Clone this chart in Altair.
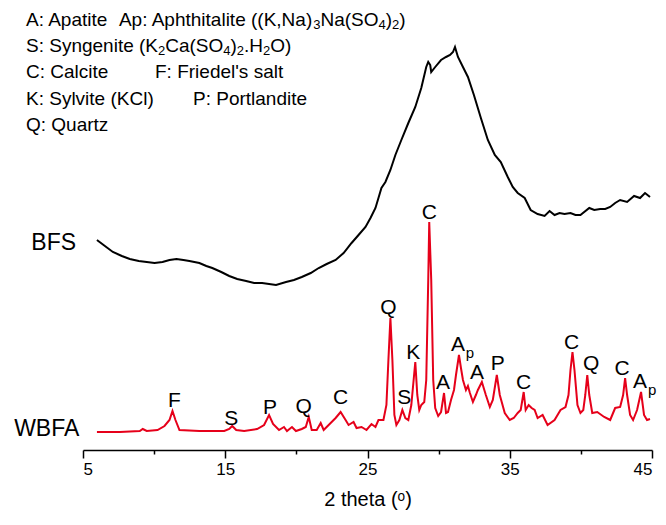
import altair as alt
import pandas as pd

# ---- BFS (black) pattern: 2theta (deg), intensity (a.u.) ----
bfs_2theta = [5.98, 6.54, 7.10, 7.73, 8.29, 8.92, 9.48, 10.03, 10.59, 11.08, 11.57, 12.06, 12.48,
              13.18, 13.67, 14.09, 14.72, 15.28, 15.84, 16.47, 17.03, 17.59, 18.08, 18.57, 19.27,
              19.83, 20.38, 21.01, 21.57, 22.13, 22.76, 23.32, 23.88, 24.37, 24.86, 25.21, 25.56,
              25.77, 25.98, 26.26, 26.61, 26.96, 27.38, 27.87, 28.36, 28.78, 29.13, 29.27, 29.41,
              29.48, 29.76, 30.17, 30.52, 30.80, 31.01, 31.15, 31.36, 31.71, 32.06, 32.48, 32.97,
              33.46, 33.95, 34.37, 34.86, 35.21, 35.56, 36.05, 36.47, 36.96, 37.45, 37.80, 38.15,
              38.50, 38.85, 39.27, 39.62, 39.97, 40.59, 40.94, 41.36, 41.71, 42.06, 42.41, 42.76,
              43.25, 43.74, 44.16, 44.51, 44.86]
bfs_int = [210, 204, 198, 194, 191, 189, 188, 187, 188, 190, 191, 190, 189,
           187, 184, 182, 178, 174, 171, 169, 167, 167, 166, 165, 168,
           170, 173, 177, 182, 186, 190, 197, 207, 215, 223, 232, 242,
           252, 262, 268, 280, 295, 310, 327, 343, 362, 383, 388, 385,
           378, 383, 390, 393, 395, 398, 403, 393, 383, 373, 355, 332,
           310, 295, 288, 273, 263, 257, 252, 240, 236, 234, 239, 235,
           237, 236, 237, 235, 235, 242, 240, 241, 241, 243, 247, 250,
           248, 254, 252, 257, 253]

# ---- WBFA (red) pattern ----
wbfa_2theta = [5.98, 7.59, 8.99, 9.20, 9.48, 10.24, 10.73, 11.08, 11.29, 11.50, 11.78, 13.18,
               14.93, 15.28, 15.49, 15.77, 16.33, 17.24, 17.73, 18.08, 18.36, 18.78, 19.13, 19.34,
               19.69, 19.97, 20.38, 20.66, 20.87, 21.08, 21.43, 21.71, 21.92, 22.27, 22.76, 23.11,
               23.46, 23.67, 24.02, 24.23, 24.58, 24.93, 25.28, 25.56, 25.77, 26.12, 26.33, 26.47,
               26.61, 26.75, 26.89, 27.03, 27.24, 27.45, 27.66, 27.87, 28.08, 28.36, 28.50, 28.64,
               28.78, 28.99, 29.13, 29.27, 29.34, 29.48, 29.62, 29.76, 29.97, 30.17, 30.38, 30.52,
               30.66, 30.87, 31.08, 31.22, 31.43, 31.57, 31.71, 31.92, 32.06, 32.20, 32.41, 32.62,
               32.76, 33.04, 33.32, 33.60, 33.81, 34.09, 34.30, 34.65, 35.00, 35.28, 35.56, 35.77,
               35.98, 36.12, 36.33, 36.54, 36.75, 36.96, 37.31, 37.66, 38.15, 38.57, 38.92, 39.13,
               39.27, 39.41, 39.55, 39.76, 39.97, 40.17, 40.31, 40.45, 40.59, 40.80, 41.15, 41.64,
               42.06, 42.41, 42.76, 42.97, 43.11, 43.25, 43.46, 43.67, 43.95, 44.23, 44.44, 44.65,
               44.86]
wbfa_int = [18, 18, 19, 21, 19, 20, 24, 30, 39, 30, 20, 19,
            19, 21, 24, 20, 19, 21, 25, 35, 26, 20, 23, 19,
            23, 19, 21, 23, 33, 20, 20, 27, 20, 25, 32, 38,
            30, 25, 28, 22, 23, 20, 26, 23, 30, 30, 45, 90,
            132, 90, 35, 25, 30, 40, 32, 30, 45, 88, 55, 40,
            45, 48, 70, 170, 228, 170, 70, 42, 34, 38, 57, 37,
            38, 50, 60, 75, 95, 82, 70, 60, 64, 57, 48, 55,
            60, 68, 55, 43, 50, 75, 55, 37, 30, 32, 37, 40,
            58, 40, 45, 42, 40, 32, 35, 25, 30, 40, 43, 55,
            80, 98, 80, 45, 37, 40, 55, 75, 55, 37, 38, 33,
            30, 42, 43, 55, 72, 55, 35, 30, 40, 58, 35, 30,
            31]

# ---- peak labels ----
peak_text = ["F", "S", "P", "Q", "C", "Q", "S", "K", "C", "A", "A", "A", "P", "C", "C", "Q", "C", "A"]
peak_2theta = [11.43, 15.42, 18.15, 20.52, 23.11, 26.47, 27.59, 28.22, 29.34, 30.31, 31.36, 32.69,
               34.16, 35.98, 39.34, 40.73, 42.90, 44.16]
peak_int = [49, 31, 42, 43, 52, 142, 52, 97, 237, 67, 105, 77, 86, 67, 107, 86, 81, 68]
# "p" subscript of the two Aphthitalite labels
sub_text = ["p", "p"]
sub_2theta = [31.36, 44.16]
sub_int = [105, 68]

series_names = ["BFS", "WBFA"]
series_label_2theta = [2.94, 2.45]
series_label_int = [207, 21]

# legend lines: list of (text, is_subscript) segments
legend_lines = [
    [("A: Apatite", 0), ("  ", 0), ("Ap: Aphthitalite ((K,Na)", 0), ("3", 1), ("Na(SO", 0),
     ("4", 1), (")", 0), ("2", 1), (")", 0)],
    [("S: Syngenite (K", 0), ("2", 1), ("Ca(SO", 0), ("4", 1), (")", 0), ("2", 1), (".H", 0),
     ("2", 1), ("O)", 0)],
    [("C: Calcite", 0)],
    [("K: Sylvite (KCl)", 0)],
    [("Q: Quartz", 0)],
]
legend_extra = ["F: Friedel's salt", "P: Portlandite"]

FONT = "Liberation Sans"
MAIN_FS = 19
SUB_FS = 13

# Arial / Liberation Sans advance widths (per 1000 em)
W = {" ": 278, "(": 333, ")": 333, ",": 278, ".": 278, ":": 278, "'": 191,
     "A": 667, "C": 722, "F": 611, "H": 722, "K": 667, "N": 722, "O": 778, "S": 667,
     "a": 556, "e": 556, "g": 556, "h": 556, "i": 222, "l": 222, "n": 556, "p": 556,
     "t": 278, "y": 500}
for d in "0123456789":
    W[d] = 556


def text_width(s, fs):
    return sum(W.get(ch, 556) for ch in s) * fs / 1000.0


lines_df = pd.concat([
    pd.DataFrame({"t": bfs_2theta, "i": bfs_int, "s": "BFS"}),
    pd.DataFrame({"t": wbfa_2theta, "i": wbfa_int, "s": "WBFA"}),
])
peaks_df = pd.DataFrame({"t": peak_2theta, "i": peak_int, "lab": peak_text})
sub_df = pd.DataFrame({"t": sub_2theta, "i": sub_int, "lab": sub_text})
series_df = pd.DataFrame({"t": series_label_2theta, "i": series_label_int, "lab": series_names})

xscale = alt.Scale(domain=[5, 45], nice=False, zero=False)
yscale = alt.Scale(domain=[0, 445], nice=False, zero=False)

xaxis = alt.Axis(
    values=[5, 10, 15, 20, 25, 30, 35, 40, 45],
    labelExpr="datum.value % 10 == 5 ? datum.label : ''",
    tickSize={"condition": {"test": "datum.value % 10 == 5", "value": 8}, "value": 4},
    title="2 theta (\u1d52)",
    grid=False,
)

lines = alt.Chart(lines_df).mark_line(strokeWidth=2).encode(
    x=alt.X("t:Q", scale=xscale, axis=xaxis),
    y=alt.Y("i:Q", scale=yscale, axis=None),
    color=alt.Color("s:N", scale=alt.Scale(domain=["BFS", "WBFA"], range=["#000000", "#e6001a"]),
                    legend=None),
    detail="s:N",
)

peaks = alt.Chart(peaks_df).mark_text(font=FONT, fontSize=21, color="#000000", baseline="middle",
                                      align="center").encode(
    x=alt.X("t:Q", scale=xscale), y=alt.Y("i:Q", scale=yscale), text="lab:N")

subs = alt.Chart(sub_df).mark_text(font=FONT, fontSize=15, color="#000000", baseline="middle",
                                   align="center", dx=12, dy=8).encode(
    x=alt.X("t:Q", scale=xscale), y=alt.Y("i:Q", scale=yscale), text="lab:N")

series = alt.Chart(series_df).mark_text(font=FONT, fontSize=23, color="#000000", baseline="middle",
                                        align="center").encode(
    x=alt.X("t:Q", scale=xscale), y=alt.Y("i:Q", scale=yscale), text="lab:N")

# legend text built from positioned segments
seg_rows = []
leg_y = [15, 41, 67, 94, 120]
for k, segs in enumerate(legend_lines):
    xpos = -57.0
    for s, is_sub in segs:
        fs = SUB_FS if is_sub else MAIN_FS
        if s.strip():
            seg_rows.append({"lab": s, "px": xpos, "py": leg_y[k] + (5 if is_sub else 0), "fs": fs})
        xpos += text_width(s, fs)
extra_x = [72, 110]
extra_y = [67, 94]
for k, s in enumerate(legend_extra):
    seg_rows.append({"lab": s, "px": extra_x[k], "py": extra_y[k], "fs": MAIN_FS})
seg_df = pd.DataFrame(seg_rows)

legend_main = alt.Chart(seg_df[seg_df.fs == MAIN_FS]).mark_text(
    font=FONT, fontSize=MAIN_FS, color="#000000", baseline="middle", align="left"
).encode(x=alt.X("px:Q", scale=None), y=alt.Y("py:Q", scale=None), text="lab:N")
legend_sub = alt.Chart(seg_df[seg_df.fs == SUB_FS]).mark_text(
    font=FONT, fontSize=SUB_FS, color="#000000", baseline="middle", align="left"
).encode(x=alt.X("px:Q", scale=None), y=alt.Y("py:Q", scale=None), text="lab:N")

chart = alt.layer(lines, peaks, subs, series, legend_main, legend_sub).properties(
    width=569, height=445,
    autosize=alt.AutoSizeParams(type="none"),
    padding={"left": 83, "top": 5, "right": 14, "bottom": 75},
).configure_view(stroke=None).configure_axis(
    labelFont=FONT, labelFontSize=17, labelColor="#000000", labelPadding=3,
    titleFont=FONT, titleFontSize=20, titleFontWeight="normal", titleColor="#000000", titlePadding=12,
    domainColor="#000000", domainWidth=1.5, tickColor="#000000", tickWidth=1.5,
)

chart.save("out.html", embed_options={"renderer": "svg", "actions": False})
